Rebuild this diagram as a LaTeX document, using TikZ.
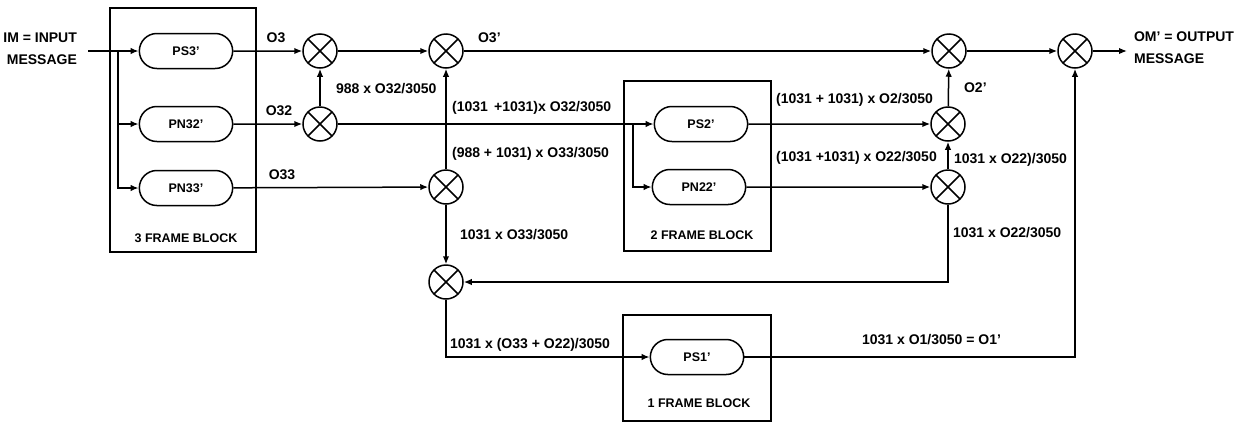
\documentclass[tikz,border=0pt]{standalone}
\usepackage{fontspec}
\setmainfont{Liberation Sans}
\usetikzlibrary{arrows.meta,shapes.misc}

\begin{document}
\begin{tikzpicture}[x=1pt,y=-1pt,line width=1.5pt,
  >={Latex[length=8pt,width=6.5pt]},
  font=\fontsize{14}{22}\selectfont\bfseries]
\useasboundingbox (0,0) rectangle (1245,421);

% frame blocks
 \begin{scope}[every node/.style={draw, rectangle, inner sep=0pt}]
  \node[minimum width=146pt, minimum height=244pt] (blk3) at (183,130) {};
  \node[minimum width=147pt, minimum height=170pt] (blk2) at (697.5,166) {};
  \node[minimum width=148pt, minimum height=106pt] (blk1) at (697,368) {};
 \end{scope}
 \begin{scope}[every node/.style={font=\fontsize{12.5}{15}\selectfont\bfseries}]
  \node (lbl3) at (186,238) {3 FRAME BLOCK};
  \node (lbl2) at (702,235) {2 FRAME BLOCK};
  \node (lbl1) at (699,403) {1 FRAME BLOCK};
 \end{scope}

% filters
 \begin{scope}[every node/.style={draw, rounded rectangle, minimum width=100pt,
   minimum height=35pt, font=\fontsize{12.5}{15}\selectfont\bfseries}]
  \node (ps3) at (186,51) {PS3'};
  \node (pn32) at (186,124) {PN32'};
  \node (pn33) at (186,188) {PN33'};
  \node (ps2) at (701,124) {PS2'};
  \node (pn22) at (699,187) {PN22'};
  \node (ps1) at (697,357) {PS1'};
 \end{scope}

% mixers
 \begin{scope}[every node/.style={draw, circle, minimum size=34pt, inner sep=0pt,
   path picture={\draw (path picture bounding box.north west) -- (path picture bounding box.south east)
     (path picture bounding box.north east) -- (path picture bounding box.south west);}}]
  \node (m1) at (320,51) {};
  \node (m2) at (320,124) {};
  \node (m3) at (446,51) {};
  \node (m4) at (446,187) {};
  \node (m5) at (446,282) {};
  \node (m6) at (949,51) {};
  \node (m7) at (948,124) {};
  \node (m8) at (948,187) {};
  \node (m9) at (1075,51) {};
 \end{scope}

 \coordinate (in) at (88,51);
 \coordinate (br3) at (118,51);
 \coordinate (br2) at (633,124);
 \coordinate (out) at (1127,51);

 \node[align=right, anchor=east] (im) at (81,49) {IM = INPUT\\MESSAGE};
 \node[align=left, anchor=west] (om) at (1130,48) {OM' = OUTPUT\\MESSAGE};

% signal labels
 \node (o3) at (276,38) {O3};
 \node (o32) at (279,111) {O32};
 \node (o33) at (282,175) {O33};
 \node[anchor=west] (a1) at (332,89) {988 x O32/3050};
 \node[anchor=west] (o3p) at (474,38) {O3'};
 \node[anchor=west] (a2) at (448,108) {(1031 \,+1031)x O32/3050};
 \node[anchor=west] (a3) at (448,154) {(988 + 1031) x O33/3050};
 \node[anchor=west] (a4) at (456,235) {1031 x O33/3050};
 \node[anchor=west] (a5) at (446,345) {1031 x (O33 + O22)/3050};
 \node[anchor=west] (o1p) at (858,340) {1031 x O1/3050 = O1'};
 \node[anchor=west] (a6) at (949,233) {1031 x O22/3050};
 \node[anchor=west] (a7) at (772,100) {(1031 + 1031) x O2/3050};
 \node[anchor=west] (a8) at (772,158) {(1031 +1031) x O22/3050};
 \node[anchor=west] (a9) at (950,160) {1031 x O22)/3050};
 \node[anchor=west] (o2p) at (960,88) {O2'};

% connectors
 \path [->] (in) edge (ps3);
 \draw [->] (br3) |- (pn32);
 \draw [->] (br3) |- (pn33);
 \path [->] (ps3) edge (m1);
 \path [->] (pn32) edge (m2);
 \path [->] (pn33) edge (m4);
 \path [->] (m2) edge (m1);
 \path [->] (m1) edge (m3);
 \path [->] (m4) edge (m3);
 \path [->] (m3) edge (m6);
 \path [->] (m6) edge (m9);
 \path [->] (m9) edge (out);
 \path [-] (m2) edge (br2);
 \path [->] (br2) edge (ps2);
 \draw [->] (br2) |- (pn22);
 \path [->] (ps2) edge (m7);
 \path [->] (pn22) edge (m8);
 \path [->] (m8) edge (m7);
 \path [->] (m7) edge (m6);
 \path [->] (m4) edge (m5);
 \draw [->] (m8) |- (m5);
 \draw [->] (m5) |- (ps1);
 \draw [->] (ps1) -| (m9);
\end{tikzpicture}
\end{document}
